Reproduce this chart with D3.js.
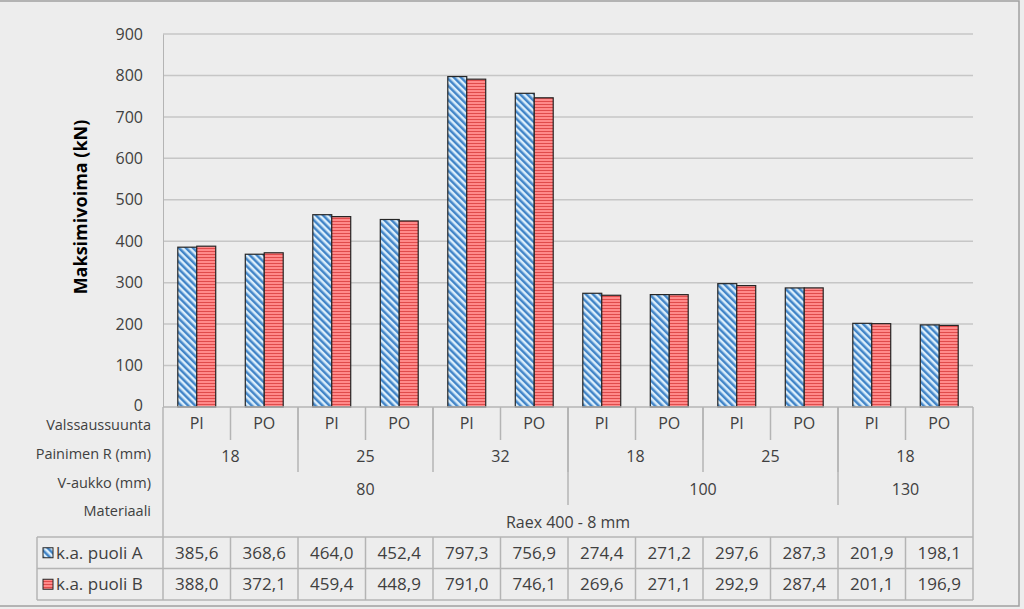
<!DOCTYPE html>
<html>
<head>
<meta charset="utf-8">
<script src="https://cdn.jsdelivr.net/npm/d3@7"></script>
<style>
  body { margin: 0; background: #ededed; }
  text { font-family: "Open Sans", "Noto Sans", sans-serif; fill: #404040; }
</style>
</head>
<body>
<script>
// data
var valssaus = ["PI","PO","PI","PO","PI","PO","PI","PO","PI","PO","PI","PO"];
var painimenR = ["18","18","25","25","32","32","18","18","25","25","18","18"];
var vAukko = ["80","80","80","80","80","80","100","100","100","100","130","130"];
var materiaali = ["Raex 400 - 8 mm","Raex 400 - 8 mm","Raex 400 - 8 mm","Raex 400 - 8 mm","Raex 400 - 8 mm","Raex 400 - 8 mm",
                  "Raex 400 - 8 mm","Raex 400 - 8 mm","Raex 400 - 8 mm","Raex 400 - 8 mm","Raex 400 - 8 mm","Raex 400 - 8 mm"];
var seriesNames = ["k.a. puoli A", "k.a. puoli B"];
var puoliA = [385.6, 368.6, 464.0, 452.4, 797.3, 756.9, 274.4, 271.2, 297.6, 287.3, 201.9, 198.1];
var puoliB = [388.0, 372.1, 459.4, 448.9, 791.0, 746.1, 269.6, 271.1, 292.9, 287.4, 201.1, 196.9];
var yTicks = [0, 100, 200, 300, 400, 500, 600, 700, 800, 900];
var rowLabels = ["Valssaussuunta", "Painimen R (mm)", "V-aukko (mm)", "Materiaali"];

var drawChart = () => {
  const w = 1024, h = 609;
  const left = 163, right = 973, top = 34, bottom = 407;

  var svg = d3.select('body').append('svg')
    .attr('width', w).attr('height', h);

  // hatch patterns
  var defs = svg.append('defs');
  var pa = defs.append('pattern').attr('id', 'hatchA')
    .attr('patternUnits', 'userSpaceOnUse').attr('width', 5).attr('height', 5)
    .attr('patternTransform', 'rotate(-45)');
  pa.append('rect').attr('width', 5).attr('height', 5).attr('fill', '#dbeefb');
  pa.append('rect').attr('width', 2.5).attr('height', 5).attr('fill', '#4285c8');

  var pb = defs.append('pattern').attr('id', 'hatchB')
    .attr('patternUnits', 'userSpaceOnUse').attr('width', 4).attr('height', 3);
  pb.append('rect').attr('width', 4).attr('height', 3).attr('fill', '#ff8a8a');
  pb.append('rect').attr('y', 2).attr('width', 4).attr('height', 1).attr('fill', '#e04b4b');

  var fills = ['url(#hatchA)', 'url(#hatchB)'];

  // outer frame
  svg.append('rect').attr('x', -2).attr('y', 1).attr('width', 1021).attr('height', 605)
    .attr('fill', 'none').attr('stroke', '#a0a0a0').attr('stroke-width', 1.5);

  var idx = d3.range(valssaus.length);
  var x = d3.scaleBand().domain(idx).range([left, right]).padding(0);
  var xs = d3.scaleBand().domain([0, 1]).range([0, x.bandwidth()])
    .paddingInner(0).paddingOuter(0.78);
  var y = d3.scaleLinear().domain([0, 900]).range([bottom, top]);

  // grid
  svg.append('g').selectAll('line').data(yTicks.filter(d => d > 0)).enter()
    .append('line')
    .attr('x1', left).attr('x2', right)
    .attr('y1', d => y(d)).attr('y2', d => y(d))
    .attr('stroke', '#c6c6c6').attr('stroke-width', 1.5);

  // y axis
  var yAxis = d3.axisLeft(y).tickValues(yTicks).tickSize(0).tickPadding(20);
  var ga = svg.append('g').attr('transform', 'translate(' + left + ',0)').call(yAxis);
  ga.select('.domain').attr('stroke', '#b4b4b4');
  ga.selectAll('text').attr('font-size', 16).attr('fill', '#404040')
    .style('font-family', '"Open Sans", sans-serif');
  ga.selectAll('.tick').filter(d => d === 0).select('text').attr('dy', '0.2em');

  svg.append('text')
    .attr('transform', 'translate(87,207) rotate(-90)')
    .attr('text-anchor', 'middle')
    .attr('font-size', 18).attr('font-weight', 'bold')
    .style('fill', '#000')
    .text('Maksimivoima (kN)');

  // bars
  var series = [puoliA, puoliB];
  series.forEach((vals, s) => {
    svg.append('g').selectAll('rect').data(vals).enter()
      .append('rect')
      .attr('x', (d, i) => x(i) + xs(s))
      .attr('y', d => y(d))
      .attr('width', xs.bandwidth())
      .attr('height', d => y(0) - y(d))
      .attr('fill', fills[s])
      .attr('stroke', '#262626').attr('stroke-width', 1.2);
  });

  // x axis baseline
  svg.append('line').attr('x1', left).attr('x2', right)
    .attr('y1', bottom).attr('y2', bottom).attr('stroke', '#b4b4b4').attr('stroke-width', 1.5);

  // multi level category labels
  var levels = [valssaus, painimenR, vAukko, materiaali];
  var labelY = [429, 462, 495, 528];
  var sepBottom = [440, 472, 505, 537];
  var leftY = [430, 459, 488, 516];

  levels.forEach((lab, L) => {
    // groups: consecutive equal labels within same parent path
    var groups = [];
    idx.forEach(i => {
      var key = levels.slice(L).map(a => a[i]).join('|');
      var last = groups[groups.length - 1];
      if (last && last.key === key && last.end === i - 1) { last.end = i; }
      else groups.push({ key: key, label: lab[i], start: i, end: i });
    });
    groups.forEach(g => {
      var x0 = x(g.start), x1 = x(g.end) + x.bandwidth();
      svg.append('text').attr('x', (x0 + x1) / 2).attr('y', labelY[L])
        .attr('text-anchor', 'middle').attr('font-size', 16).text(g.label);
      if (g.start > 0) {
        svg.append('line').attr('x1', x0).attr('x2', x0)
          .attr('y1', bottom).attr('y2', sepBottom[L])
          .attr('stroke', '#b4b4b4').attr('stroke-width', 1.5);
      }
    });
    svg.append('text').attr('x', 151).attr('y', leftY[L])
      .attr('text-anchor', 'end').attr('font-size', 14.5).text(rowLabels[L]);
  });

  // outer edges of axis area
  [left, right].forEach(xx => {
    svg.append('line').attr('x1', xx).attr('x2', xx).attr('y1', bottom).attr('y2', 600)
      .attr('stroke', '#b4b4b4').attr('stroke-width', 1.5);
  });

  // data table
  var tTop = 537, rowH = 31.5, tLeft = 37;
  [0, 1, 2].forEach(r => {
    svg.append('line').attr('x1', tLeft).attr('x2', right)
      .attr('y1', tTop + r * rowH).attr('y2', tTop + r * rowH)
      .attr('stroke', '#b4b4b4').attr('stroke-width', 1.5);
  });
  svg.append('line').attr('x1', tLeft).attr('x2', tLeft).attr('y1', tTop).attr('y2', tTop + 2 * rowH)
    .attr('stroke', '#b4b4b4').attr('stroke-width', 1.5);
  svg.append('g').selectAll('line').data(idx.slice(1)).enter().append('line')
    .attr('x1', d => x(d)).attr('x2', d => x(d))
    .attr('y1', tTop).attr('y2', tTop + 2 * rowH)
    .attr('stroke', '#b4b4b4').attr('stroke-width', 1.5);

  var fmt = d => d.toFixed(1).replace('.', ',');
  series.forEach((vals, s) => {
    var cy = tTop + s * rowH + rowH / 2 + 6;
    svg.append('rect').attr('x', 43).attr('y', cy - 11).attr('width', 10).attr('height', 10)
      .attr('fill', fills[s]).attr('stroke', '#262626').attr('stroke-width', 1);
    svg.append('text').attr('x', 56).attr('y', cy).attr('font-size', 17).text(seriesNames[s]);
    svg.append('g').selectAll('text').data(vals).enter().append('text')
      .attr('x', (d, i) => x(i) + x.bandwidth() / 2).attr('y', cy)
      .attr('text-anchor', 'middle').attr('font-size', 17)
      .text(d => fmt(d));
  });
};

drawChart();
</script>
</body>
</html>
